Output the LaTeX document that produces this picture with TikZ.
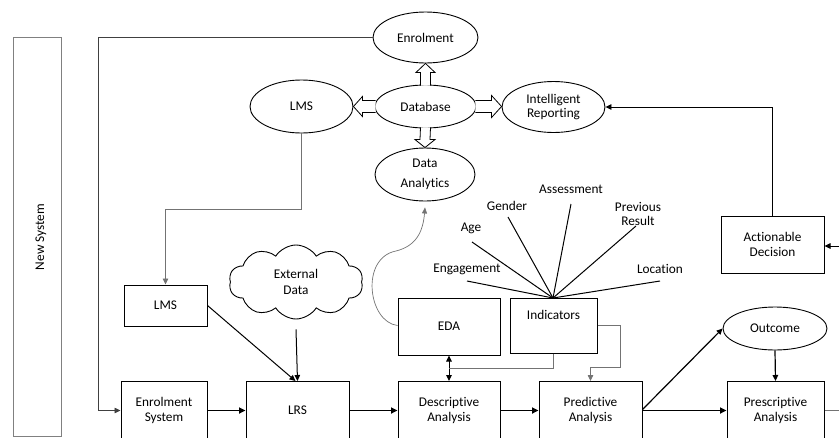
\documentclass[tikz,border=0pt]{standalone}
\usepackage{fontspec}
\setmainfont{Carlito}[Ligatures=CommonOff]
\usetikzlibrary{shapes.geometric,shapes.symbols,arrows.meta,calc}
\begin{document}
\begin{tikzpicture}[x=1pt,y=-1pt,
  font=\fontsize{13.3}{15.5}\selectfont,
  box/.style={draw, line width=1pt, align=center, inner sep=0pt},
  ell/.style={draw, ellipse, line width=0.9pt, align=center, inner sep=0pt},
  arr/.style={-{Triangle[length=6pt,width=5.5pt]}, line width=1pt},
  thk/.style={-{Triangle[length=6.5pt,width=6pt]}, line width=1.6pt},
  gry/.style={draw=black!55, line width=0.8pt},
  blk/.style={draw, fill=white, line width=0.8pt, line join=miter},
  ln/.style={line width=1pt}
]
\useasboundingbox (0,0) rectangle (839,437);

% side panel
\node[draw=black!50, line width=0.8pt, minimum width=48pt, minimum height=399pt, inner sep=0pt] (ns) at (37,236.5) {};
\node[rotate=90] (nst) at (41,237) {New System};

% ellipses
\node[ell, minimum width=105pt, minimum height=51pt] (enrol) at (425.5,37.5) {Enrolment};
\node[ell, minimum width=101pt, minimum height=43pt] (db) at (425.5,106.5) {Database};
\node[ell, minimum width=100pt, minimum height=53pt, font=\fontsize{13.3}{20}\selectfont] (da) at (425,174.5) {Data\\Analytics};
\node[ell, minimum width=103pt, minimum height=53pt] (lms) at (301.5,106.5) {LMS};
\node[ell, minimum width=103pt, minimum height=51pt, font=\fontsize{13.3}{13.5}\selectfont] (ir) at (553.5,107) {Intelligent\\Reporting};
\node[ell, minimum width=104pt, minimum height=43pt] (out) at (775,328.5) {Outcome};

% boxes
\node[box, minimum width=83pt, minimum height=41pt] (lmsbox) at (165.5,305.5) {LMS};
\node[box, minimum width=102pt, minimum height=57pt] (eda) at (449,326.5) {EDA};
\node[box, minimum width=87pt, minimum height=55pt] (ind) at (553.5,325.5) {Indicators\\[6pt]};
\node[box, minimum width=103pt, minimum height=57pt] (ad) at (772.5,244.5) {Actionable\\Decision};
\node[box, minimum width=86pt, minimum height=58pt] (es) at (164,410.5) {Enrolment\\System};
\node[box, minimum width=103pt, minimum height=58pt] (lrs) at (297.5,410.5) {LRS};
\node[box, minimum width=102pt, minimum height=58pt] (desc) at (449,410.5) {Descriptive\\Analysis};
\node[box, minimum width=103pt, minimum height=58pt] (pred) at (590.5,410.5) {Predictive\\Analysis};
\node[box, minimum width=97pt, minimum height=58pt] (presc) at (775.5,410.5) {Prescriptive\\Analysis};

% cloud
\node[cloud, draw, line width=0.9pt, cloud puffs=10, cloud puff arc=115, aspect=1.9,
      minimum width=134pt, minimum height=74pt, inner sep=0pt, align=center] (ext) at (296,282) {External\\Data};

% block arrows from Database
\draw[blk] ($(db.north)+(-5,1)$) -- ($(enrol.south)+(-5,9)$) -- ($(enrol.south)+(-9.5,9)$) -- (enrol.south)
  -- ($(enrol.south)+(9.5,9)$) -- ($(enrol.south)+(5,9)$) -- ($(db.north)+(5,1)$);
\draw[blk] ($(db.south)+(-5,-1)$) -- ($(da.north)+(-5,-8)$) -- ($(da.north)+(-10,-8)$) -- (da.north)
  -- ($(da.north)+(10,-8)$) -- ($(da.north)+(5,-8)$) -- ($(db.south)+(5,-1)$);
\draw[blk] ($(db.west)+(1,-6)$) -- ($(lms.east)+(9,-6)$) -- ($(lms.east)+(9,-10)$) -- (lms.east)
  -- ($(lms.east)+(9,10)$) -- ($(lms.east)+(9,6)$) -- ($(db.west)+(1,6)$);
\draw[blk] ($(db.east)+(-1,-6)$) -- ($(ir.west |- db.east)+(-10,-6)$) -- ($(ir.west |- db.east)+(-10,-11)$) -- (ir.west |- db.east)
  -- ($(ir.west |- db.east)+(-10,11)$) -- ($(ir.west |- db.east)+(-10,6)$) -- ($(db.east)+(-1,6)$);

% enrolment loop
\coordinate (lft) at (98,38);
\draw[arr, draw=black!75, line width=0.8pt] (enrol.west) -- (enrol.west -| lft) |- (es.west);

% LMS ellipse to LMS box
\draw[arr, draw=black!55, line width=0.8pt] (lms.south) |- ($(lmsbox.north)+(0,-75)$) -- (lmsbox.north);

% into LRS
\draw[arr] (lmsbox.east) -- ($(lrs.north)+(-2,0)$);
\draw[arr] ($(ext.south)+(0,10)$) -- (lrs.north);

% main flow
\draw[thk] (es.east) -- (lrs.west);
\draw[thk] (lrs.east) -- (desc.west);
\draw[thk] (desc.east) -- (pred.west);
\draw[thk] (pred.east) -- (presc.west);
\draw[arr, line width=1.2pt] ($(pred.east)+(0,-1)$) -- (out.west);
\draw[arr, line width=1.2pt] (out.south) -- (presc.north);

% actionable decision
\draw[arr, line width=0.9pt] (ad.north) |- (ir.east);
\coordinate (rin) at (839,246);
\draw[arr, line width=0.9pt] (rin) -- (ad.east |- rin);
\coordinate (rout) at (839,410.5);
\draw[gry] (presc.east) -- (rout);

% EDA <-> Descriptive
\draw[{Triangle[length=6pt,width=5.5pt]}-{Triangle[length=6pt,width=5.5pt]}, line width=1pt] (eda.south) -- (desc.north);
\draw[gry] (ind.south) |- ($(eda.south)!0.5!(desc.north)$);
\draw[arr, draw=black!55, line width=0.8pt] (ind.east) -- ++(23,0) |- ($(pred.north)+(0,-14)$) -- (pred.north);

% curve EDA -> Data Analytics
\draw[-{Triangle[length=6pt,width=5pt]}, draw=black!55, line width=0.7pt] ($(eda.west)+(0,-1)$)
  .. controls (368,322) and (360,258) .. (396,251)
  .. controls (416,246) and (423,232) .. ($(da.south)+(0,6)$);

% indicators
\coordinate (hub) at (553,298);
\node (eng) at (467,269) {Engagement};
\node (age) at (471,228) {Age};
\node (gen) at (507,206) {Gender};
\node (ass) at (571,189) {Assessment};
\node[align=center, font=\fontsize{13.3}{14}\selectfont] (prv) at (638,214) {Previous\\Result};
\node (loc) at (660,269) {Location};
\coordinate (e1) at (467,281);
\coordinate (e2) at (472,242);
\coordinate (e3) at (508,217);
\coordinate (e4) at (571,204);
\coordinate (e5) at (636,226);
\coordinate (e6) at (660,281);
\foreach \e in {e1,e2,e3,e4,e5,e6} \draw[ln] (hub) -- (\e);
\end{tikzpicture}
\end{document}
